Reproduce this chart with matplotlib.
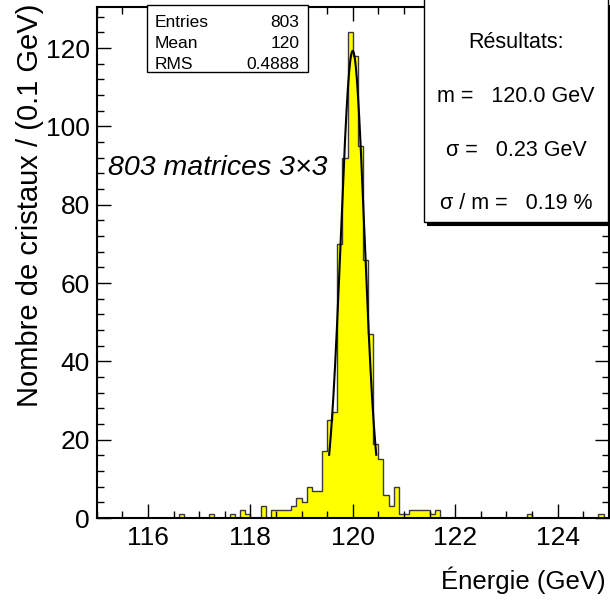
import numpy as np
import matplotlib.pyplot as plt
from matplotlib.patches import Rectangle
from matplotlib.ticker import MultipleLocator

plt.rcParams["font.family"] = ["Liberation Sans", "DejaVu Sans"]

# bins non vides : centre du bin (GeV) et nombre de cristaux
bin_centres = [116.65, 117.25, 117.65, 117.85, 117.95, 118.25, 118.45, 118.55,
               118.65, 118.75, 118.85, 118.95, 119.05, 119.15, 119.25, 119.35,
               119.45, 119.55, 119.65, 119.75, 119.85, 119.95, 120.05, 120.15,
               120.25, 120.35, 120.45, 120.55, 120.65, 120.75, 120.85, 120.95,
               121.05, 121.15, 121.25, 121.35, 121.45, 121.55, 121.65, 123.45,
               124.85]
counts = [1, 1, 1, 2, 1, 3, 2, 2,
          2, 2, 3, 5, 4, 8, 7, 7,
          17, 25, 27, 70, 92, 124, 118, 95,
          66, 47, 19, 15, 6, 3, 8, 1,
          1, 2, 2, 2, 2, 1, 2, 1,
          1]

# ajustement gaussien
fit_mean = 120.0
fit_sigma = 0.23
fit_amp = 119.3

stat_names = ["Entries", "Mean", "RMS"]
stat_values = ["803", "120", "0.4888"]

result_lines = ["Résultats:", "m =   120.0 GeV", "σ =   0.23 GeV", "σ / m =   0.19 %"]

W, H = 610, 601


def fx(x):
    return x / W


def fy(y):
    return 1 - y / H


fig = plt.figure(figsize=(6.1, 6.01), dpi=100)
ax = fig.add_axes([fx(96.7), fy(518), fx(608.7) - fx(96.7), fy(7) - fy(518)])

ax.hist(bin_centres, bins=np.linspace(115, 125, 101), weights=counts,
        histtype="stepfilled", facecolor="#ffff00", edgecolor="#3a3a3a", linewidth=1.0)

xf = np.linspace(fit_mean - 2 * fit_sigma, fit_mean + 2 * fit_sigma, 200)
yf = fit_amp * np.exp(-0.5 * ((xf - fit_mean) / fit_sigma) ** 2)
ax.plot(xf, yf, color="black", linewidth=1.5)

ax.set_xlim(115, 125)
ax.set_ylim(0, 130.5)
ax.xaxis.set_major_locator(MultipleLocator(2))
ax.xaxis.set_minor_locator(MultipleLocator(0.5))
ax.yaxis.set_major_locator(MultipleLocator(20))
ax.yaxis.set_minor_locator(MultipleLocator(4))
ax.tick_params(which="both", direction="in", top=True, right=True, width=1.0)
ax.tick_params(which="major", length=10, labelsize=19)
ax.tick_params(which="minor", length=5)
ax.tick_params(axis="x", pad=6)
ax.tick_params(axis="y", pad=5)
for s in ax.spines.values():
    s.set_linewidth(1.5)

fig.text(fx(30), fy(4), "Nombre de cristaux / (0.1 GeV)", rotation=90,
         ha="center", va="top", fontsize=21)
fig.text(fx(606), fy(580), "Énergie (GeV)", ha="right", va="center", fontsize=18.5)
fig.text(fx(108), fy(168), "803 matrices 3×3", ha="left", va="center",
         fontsize=20.5, style="italic")

# boîte de statistiques
fig.add_artist(Rectangle((fx(147.3), fy(72.3)), fx(308.3) - fx(147.3), fy(5) - fy(72.3),
                         transform=fig.transFigure, facecolor="white",
                         edgecolor="black", linewidth=1.0))
for i, (name, val) in enumerate(zip(stat_names, stat_values)):
    yb = 27 + i * 21.2
    fig.text(fx(155), fy(yb), name, ha="left", va="baseline", fontsize=12.5)
    fig.text(fx(299.5), fy(yb), val, ha="right", va="baseline", fontsize=12.5)

# boîte des résultats, avec ombre
fig.add_artist(Rectangle((fx(427), fy(224.5)), fx(612) - fx(427), fy(5) - fy(224.5),
                         transform=fig.transFigure, facecolor="black",
                         edgecolor="black", linewidth=0.8))
fig.add_artist(Rectangle((fx(424), fy(221.7)), fx(607.5) - fx(424), fy(-2) - fy(221.7),
                         transform=fig.transFigure, facecolor="white",
                         edgecolor="black", linewidth=1.0))
for i, line in enumerate(result_lines):
    fig.text(fx(516), fy(43 + i * 53.5), line, ha="center", va="center", fontsize=15.5)

fig.savefig("out.png", dpi=100)
